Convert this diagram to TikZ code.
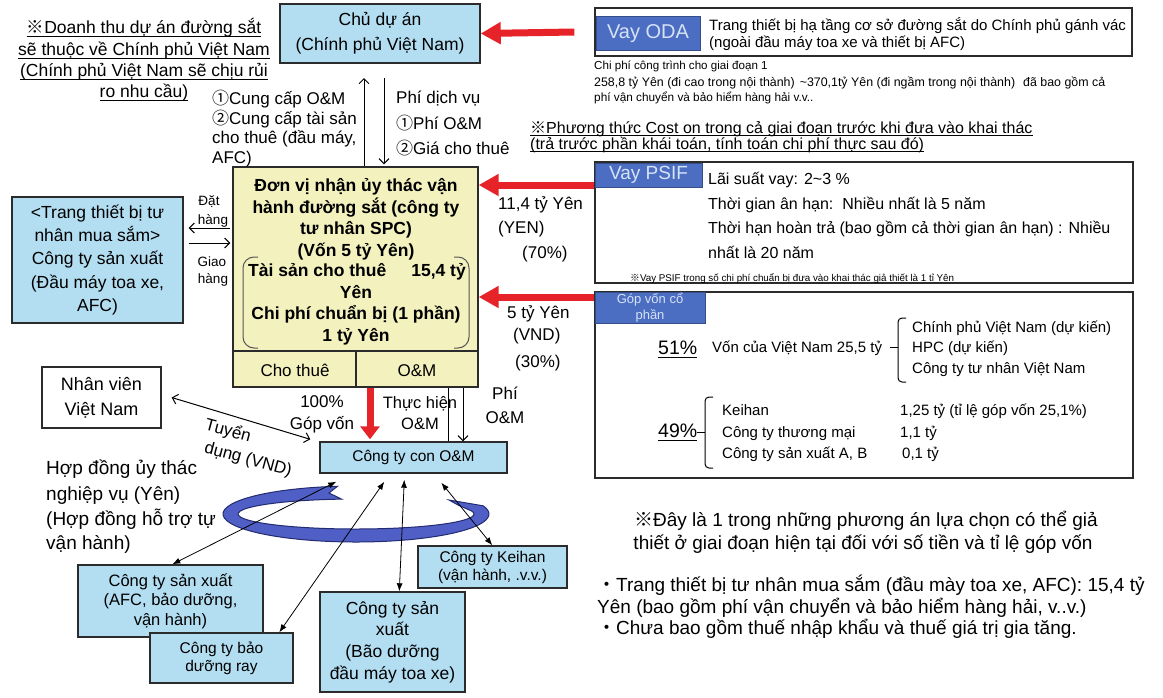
\documentclass[tikz,border=0pt]{standalone}
\usepackage{fontspec}
\setmainfont{Liberation Sans}
\newfontfamily\cjk{Noto Sans CJK JP}
\usetikzlibrary{arrows.meta,calc}
\newcommand\FS[2]{\fontsize{#1}{#2}\selectfont}
\newcommand\kome{{\cjk ※}}
\newcommand\cone{{\cjk ①}}
\newcommand\ctwo{{\cjk ②}}
\newcommand\kdot{{\cjk ・}}
\newcommand\ULine[2]{\draw[line width=0.9pt] ($(#1.base west)+(0,#2)$) -- ($(#1.base east)+(0,#2)$);}
\definecolor{lblue}{HTML}{B3DEF1}
\definecolor{byel}{HTML}{F3F2BE}
\definecolor{tagblue}{HTML}{4C6EC2}
\definecolor{tagtext}{HTML}{D6E2F6}
\definecolor{rred}{HTML}{E62329}
\definecolor{ringc}{HTML}{4F5FC6}
\definecolor{ringedge}{HTML}{232C70}
\definecolor{bord}{HTML}{2B2B2B}
\begin{document}
\begin{tikzpicture}[x=1pt,y=-1pt,
  box/.style={draw=bord,line width=1.4pt,inner sep=0pt},
  tag/.style={fill=tagblue,draw=tagblue!70!black,line width=0.8pt,inner sep=0pt,text=tagtext},
  txt/.style={inner sep=0pt,anchor=base},
  txtl/.style={inner sep=0pt,anchor=base west},
  txtr/.style={inner sep=0pt,anchor=base east},
  redarr/.style={draw=rred,line width=7pt,-{Triangle[length=20pt,width=21pt]}},
  thinl/.style={draw=black,line width=1pt},
  chev/.style={-{Straight Barb[length=5pt,width=10pt]}},
  chev2/.style={{Straight Barb[length=5pt,width=10pt]}-{Straight Barb[length=5pt,width=10pt]}},
  dbl/.style={draw=black,line width=0.8pt,{Latex[length=8pt,width=6pt]}-{Latex[length=8pt,width=6pt]}},
]
\useasboundingbox (0,0) rectangle (1163,697);
\fill[white] (0,0) rectangle (1163,697);

% ---------- top-left note
\begin{scope}[font=\FS{17.5}{22}]
\node[txt] (t1) at (144,33) {\kome Doanh thu dự án đường sắt};
\node[txt] (t2) at (144,55) {sẽ thuộc về Chính phủ Việt Nam};
\node[txt] (t3) at (144,76) {(Chính phủ Việt Nam sẽ chịu rủi};
\node[txt] (t4) at (144,97) {ro nhu cầu)};
\end{scope}
\ULine{t1}{3}\ULine{t2}{3}\ULine{t3}{3}\ULine{t4}{3}

% ---------- Chu du an
\node[box,fill=lblue,minimum width=200pt,minimum height=59pt,align=center,font=\FS{17.5}{25}] (chu) at (380,33.5) {Chủ dự án\\(Chính phủ Việt Nam)};

% ---------- ODA
\node[box,fill=white,minimum width=537pt,minimum height=48pt] (oda) at (863.5,32) {};
\node[tag,minimum width=104pt,minimum height=34pt,font=\FS{20}{22}] (odatag) at (648,33.5) {Vay ODA};
\node[txtl,font=\FS{15}{17}] (oda1) at (709,30) {Trang thiết bị hạ tầng cơ sở đường sắt do Chính phủ gánh vác};
\node[txtl,font=\FS{15}{17}] (oda2) at (709,47) {(ngoài đầu máy toa xe và thiết bị AFC)};
\node[txtl,font=\FS{11.6}{13}] (c1) at (594,69) {Chi phí công trình cho giai đoạn 1};
\node[txtl,font=\FS{12.4}{13}] (c2) at (594,86) {258,8 tỷ Yên (đi cao trong nội thành)\hspace{5pt}\textasciitilde370,1tỷ Yên (đi ngầm trong nội thành)\hspace{8pt}đã bao gồm cả};
\node[txtl,font=\FS{11.8}{13}] (c3) at (594,101) {phí vận chuyển và bảo hiểm hàng hải v.v..};

% ---------- cost on note
\node[txtl,font=\FS{16}{16}] (k1) at (530,133) {\kome Phương thức Cost on trong cả giai đoạn trước khi đưa vào khai thác};
\node[txtl,font=\FS{16}{16}] (k2) at (530,149) {(trả trước phần khái toán, tính toán chi phí thực sau đó)};
\ULine{k1}{2.5}\ULine{k2}{2.5}

% ---------- PSIF
\node[box,fill=white,minimum width=538pt,minimum height=121pt] (psif) at (864,222.5) {};
\node[tag,minimum width=107pt,minimum height=24pt,font=\FS{19}{20}] (psiftag) at (648.5,175) {Vay PSIF};
\begin{scope}[font=\FS{16}{18}]
\node[txtl] (p1) at (708,184.5) {Lãi suất vay:\hspace{6pt}2\textasciitilde3 \%};
\node[txtl] (p2) at (708,209.5) {Thời gian ân hạn:\hspace{9pt}Nhiều nhất là 5 năm};
\node[txtl] (p3) at (708,233.5) {Thời hạn hoàn trả (bao gồm cả thời gian ân hạn) : Nhiều};
\node[txtl] (p4) at (708,258.5) {nhất là 20 năm};
\end{scope}
\node[txtl,font=\FS{9.8}{11}] (p5) at (630,281) {\kome Vay PSIF trong số chi phí chuẩn bị đưa vào khai thác giả thiết là 1 tỉ Yên};

% ---------- equity
\node[box,fill=white,minimum width=538pt,minimum height=186pt] (eq) at (864,385) {};
\node[tag,minimum width=110pt,minimum height=31pt,align=center,font=\FS{13}{16}] (eqtag) at (650,307.5) {Góp vốn cổ\\phần};
\node[txtl,font=\FS{19.5}{20}] (e51) at (658,354) {51\%};
\ULine{e51}{3}
\node[txtl,font=\FS{15}{17}] (evn) at (712,352) {Vốn của Việt Nam 25,5 tỷ};
\draw[thinl,rounded corners=4pt] (906,318) -- (898,318) -- (898,382) -- (906,382);
\draw[thinl] (890,347) -- (898,347);
\begin{scope}[font=\FS{15}{17}]
\node[txtl] (ea1) at (912,332) {Chính phủ Việt Nam (dự kiến)};
\node[txtl] (ea2) at (912,352) {HPC (dự kiến)};
\node[txtl] (ea3) at (912,373) {Công ty tư nhân Việt Nam};
\node[txtl] (eb1) at (722,415) {Keihan};
\node[txtl] (eb2) at (722,437) {Công ty thương mại};
\node[txtl] (eb3) at (722,458) {Công ty sản xuất A, B};
\node[txtl] (ev1) at (900,415) {1,25 tỷ (tỉ lệ góp vốn 25,1\%)};
\node[txtl] (ev2) at (900,437) {1,1 tỷ};
\node[txtl] (ev3) at (902,458) {0,1 tỷ};
\end{scope}
\node[txtl,font=\FS{19.5}{20}] (e49) at (658,437) {49\%};
\ULine{e49}{3}
\draw[thinl,rounded corners=4pt] (713,397) -- (705,397) -- (705,468) -- (713,468);
\draw[thinl] (697,432) -- (705,432);

% ---------- SPC
\node[box,fill=byel,minimum width=245pt,minimum height=220pt] (spc) at (355.5,277) {};
\draw[bord,line width=1.4pt] (spc.west |- 0,351) -- (spc.east |- 0,351);
\draw[bord,line width=1.4pt] (356,351) -- (spc.south -| 356,0);
\draw[bord!80,line width=1pt,rounded corners=11pt] (258,257) -- (243,257) -- (243,348) -- (258,348);
\draw[bord!80,line width=1pt,rounded corners=11pt] (454,257) -- (469,257) -- (469,348) -- (454,348);
\begin{scope}[font=\bfseries\FS{17.5}{21}]
\node[txt] (s1) at (356,191) {Đơn vị nhận ủy thác vận};
\node[txt] (s2) at (356,213) {hành đường sắt (công ty};
\node[txt] (s3) at (356,234) {tư nhân SPC)};
\node[txt] (s4) at (356,256) {(Vốn 5 tỷ Yên)};
\node[txtl] (s5) at (248,276) {Tài sản cho thuê};
\node[txtr] (s5b) at (466,276) {15,4 tỷ};
\node[txt] (s6) at (356,298) {Yên};
\node[txt] (s7) at (356,319) {Chi phí chuẩn bị (1 phần)};
\node[txt] (s8) at (356,341) {1 tỷ Yên};
\end{scope}
\node[txt,font=\FS{17}{20}] (cho) at (295,376) {Cho thuê};
\node[txt,font=\FS{17}{20}] (om) at (417,376) {O\&M};

% ---------- labels between Chu and SPC
\begin{scope}[font=\FS{17}{20}]
\node[txtl] (l1) at (212,104) {\cone Cung cấp O\&M};
\node[txtl] (l2) at (212,124) {\ctwo Cung cấp tài sản};
\node[txtl] (l3) at (212,143) {cho thuê (đầu máy,};
\node[txtl] (l4) at (212,163) {AFC)};
\node[txtl] (r1) at (396,103) {Phí dịch vụ};
\node[txtl] (r2) at (396,129) {\cone Phí O\&M};
\node[txtl] (r3) at (396,154) {\ctwo Giá cho thuê};
\end{scope}
\coordinate (ua) at (364,78);
\coordinate (da) at (384,78);
\draw[thinl,chev] (ua |- spc.north) -- (ua);
\draw[thinl,chev] (da) -- ($(da |- spc.north)+(0,-2)$);

% ---------- money labels
\begin{scope}[font=\FS{17}{20}]
\node[txtl] (m1) at (498,209) {11,4 tỷ Yên};
\node[txtl] (m2) at (498,233) {(YEN)};
\node[txtl] (m3) at (522,258) {(70\%)};
\node[txtl] (m4) at (507,318) {5 tỷ Yên};
\node[txtl] (m5) at (513,340) {(VND)};
\node[txtl] (m6) at (515,367) {(30\%)};
\end{scope}

% ---------- red arrows
\coordinate (ra1) at (594,185);
\coordinate (ra2) at (594,297);
\coordinate (ra3) at (370,0);
\draw[redarr] ($(oda.west)+(-20,0)$) -- (chu.east);
\draw[redarr] (ra1) -- (ra1 -| spc.east);
\draw[redarr] (ra2) -- (ra2 -| spc.east);

% ---------- manufacturer box
\node[box,fill=lblue,minimum width=171pt,minimum height=126pt,align=center,font=\FS{17.5}{23.3}] (mfr) at (97.5,260) {<Trang thiết bị tư\\nhân mua sắm>\\Công ty sản xuất\\(Đầu máy toa xe,\\AFC)};
\begin{scope}[font=\FS{13.5}{16}]
\node[txt] (d1) at (209,205) {Đặt};
\node[txt] (d2) at (213,224) {hàng};
\node[txt] (g1) at (212,266) {Giao};
\node[txt] (g2) at (213,283) {hàng};
\end{scope}
\coordinate (dh) at (0,228);
\coordinate (gh) at (0,243);
\draw[thinl,chev,shorten <=2pt,shorten >=5pt] (spc.west |- dh) -- (mfr.east |- dh);
\draw[thinl,chev,shorten <=5pt,shorten >=2pt] (mfr.east |- gh) -- (spc.west |- gh);

% ---------- Nhan vien, cong ty con
\node[box,fill=white,minimum width=119pt,minimum height=61pt,align=center,font=\FS{18}{25}] (nv) at (101.5,397.5) {Nhân viên\\Việt Nam};
\node[box,fill=lblue,minimum width=187pt,minimum height=31pt,font=\FS{15.5}{17}] (con) at (413.5,457.5) {Công ty con O\&M};
\draw[redarr,line width=7pt,-{Triangle[length=13pt,width=19pt]}] (ra3 |- spc.south) -- ($(ra3 |- con.north)+(0,-2)$);
\begin{scope}[font=\FS{17}{20}]
\node[txt] (pc1) at (322,407) {100\%};
\node[txt] (pc2) at (322,429) {Góp vốn};
\node[txt,font=\FS{16.5}{20}] (th1) at (420,408) {Thực hiện};
\node[txt,font=\FS{16.5}{20}] (th2) at (420,429) {O\&M};
\node[txt] (ph1) at (505,399) {Phí};
\node[txt] (ph2) at (505,423) {O\&M};
\end{scope}
\coordinate (pl) at (448,0);
\coordinate (pa) at (463,0);
\draw[thinl] (pl |- spc.south) -- (pl |- con.north);
\draw[thinl,chev] (pa |- spc.south) -- (pa |- con.north);
\draw[thinl,chev2] ($(nv.east)+(10,0)$) -- ($(con.north west)+(-9,-2)$);
\node[font=\FS{17}{20},rotate=-15,inner sep=0pt] (ty1) at (228,431) {Tuyển};
\node[font=\FS{17}{20},rotate=-15,inner sep=0pt] (ty2) at (248,460) {dụng (VND)};

% ---------- Hop dong
\begin{scope}[font=\FS{19}{25}]
\node[txtl] (h1) at (46,474) {Hợp đồng ủy thác};
\node[txtl] (h2) at (46,500) {nghiệp vụ (Yên)};
\node[txtl] (h3) at (46,525) {(Hợp đồng hỗ trợ tự};
\node[txtl] (h4) at (46,549) {vận hành)};
\end{scope}

% ---------- ring
\coordinate (rc) at (356,514);
\filldraw[fill=ringc,draw=ringedge,line width=1pt]
  ($(rc)+(262:133 and 28)$) arc[start angle=262,end angle=-17,x radius=133,y radius=28]
  -- (449,500) -- (458,505)
  -- ($(rc)+(-12:118 and 15)$) arc[start angle=-12,end angle=263,x radius=118,y radius=15]
  -- (329,493) -- cycle;

% ---------- bottom boxes
\node[box,fill=lblue,minimum width=185pt,minimum height=72pt,align=center,font=\FS{16.5}{19.5}] (afc) at (170.5,601) {Công ty sản xuất\\(AFC, bảo dưỡng,\\vận hành)};
\node[box,fill=lblue,minimum width=143pt,minimum height=50pt,align=center,font=\FS{15.5}{18}] (ray) at (221.5,658) {Công ty bảo\\dưỡng ray};
\node[box,fill=lblue,minimum width=149pt,minimum height=42pt,align=center,font=\FS{15.5}{18}] (kei) at (492.5,567) {Công ty Keihan\\(vận hành, .v.v.)};
\node[box,fill=lblue,minimum width=145pt,minimum height=100pt,align=center,font=\FS{17.5}{21.7}] (bao) at (392.5,642) {Công ty sản\\xuất\\(Bão dưỡng\\đầu máy toa xe)};

\draw[dbl] ($(con.south west)+(17,8)$) -- ($(afc.north west)+(95,0)$);
\draw[dbl] ($(con.south west)+(65,8)$) -- ($(ray.north west)+(130,0)$);
\draw[dbl] ($(con.south west)+(85,6)$) -- ($(bao.north west)+(80,0)$);
\draw[dbl] ($(con.south west)+(122,9)$) -- ($(kei.north west)+(75,0)$);

% ---------- bottom right notes
\begin{scope}[font=\FS{19}{22}]
\node[txt] (b1) at (866,526) {\kome Đây là 1 trong những phương án lựa chọn có thể giả};
\node[txt] (b2) at (863,549) {thiết ở giai đoạn hiện tại đối với số tiền và tỉ lệ góp vốn};
\node[txtl] (b3) at (597,591) {\kdot Trang thiết bị tư nhân mua sắm (đầu mày toa xe, AFC): 15,4 tỷ};
\node[txtl] (b4) at (597,613) {Yên (bao gồm phí vận chuyển và bảo hiểm hàng hải, v..v.)};
\node[txtl] (b5) at (597,634) {\kdot Chưa bao gồm thuế nhập khẩu và thuế giá trị gia tăng.};
\end{scope}
\end{tikzpicture}
\end{document}
